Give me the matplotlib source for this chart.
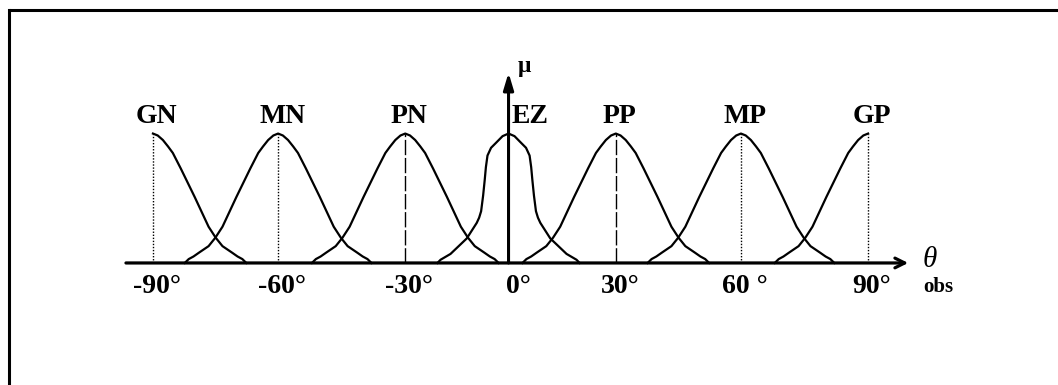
import matplotlib
matplotlib.use('Agg')
import matplotlib.pyplot as plt
from matplotlib.lines import Line2D
import numpy as np

plt.rcParams['font.family'] = 'Liberation Serif'

# fuzzy sets for the observed angle
labels = ['GN', 'MN', 'PN', 'EZ', 'PP', 'MP', 'GP']
angles = [-90, -60, -30, 0, 30, 60, 90]
tick_text = ['-90°', '-60°', '-30°', '0°', '30°', '60 °', '90°']
# where each set's peak sits on the drawn axis
peak_x = [-90, -58.5, -26.5, -0.5, 26.5, 58, 90]

# half profile of the bell sets (offset from peak, membership)
bell_offset = [0, 1.2, 2.5, 3.8, 5.0, 7.0, 10.5, 14.0, 15.8, 17.5,
               19.9, 21.3, 22.5, 23.5]
bell_mu = [1.0, 0.985, 0.95, 0.9, 0.85, 0.73, 0.51, 0.28, 0.195, 0.13,
           0.08, 0.05, 0.03, 0.0]

# narrower profile of the zero set
ez_offset = [0, 1.5, 3.1, 4.4, 5.3, 5.7, 6.0, 6.4, 6.9, 7.4, 8.0, 10.5,
             14.6, 17.1, 17.9]
ez_mu = [1.0, 0.98, 0.93, 0.89, 0.83, 0.74, 0.64, 0.52, 0.40, 0.35, 0.31,
         0.19, 0.07, 0.025, 0.0]

fig = plt.figure(figsize=(10.58, 3.85), dpi=100)
ax = fig.add_axes([0, 0, 1, 1])
ax.set_xlim(-128.5, 137.8)
ax.set_ylim(-0.943, 2.032)
ax.axis('off')

for lab, ang, px in zip(labels, angles, peak_x):
    if lab == 'EZ':
        off, mu = np.array(ez_offset), np.array(ez_mu)
    else:
        off, mu = np.array(bell_offset), np.array(bell_mu)
    xs, ys = [], []
    if ang > -90:
        xs += list(px - off[::-1])
        ys += list(mu[::-1])
    if ang < 90:
        xs += list(px + off)
        ys += list(mu)
    ax.plot(xs, ys, color='black', lw=1.6, solid_joinstyle='round')

    if lab != 'EZ':
        ls = (0, (11, 2)) if abs(ang) == 30 else (0, (1, 1.2))
        ax.plot([px, px], [0, 1], color='black', lw=1.0, linestyle=ls)

    ax.text(px + (1.0 if lab != 'EZ' else 5.5), 1.082, lab, fontsize=20,
            weight='bold', ha='center', va='baseline')

for txt, px, ang in zip(tick_text, peak_x, angles):
    ax.text(px + (2.6 if ang == 0 else 1.0), -0.232, txt, fontsize=20,
            weight='bold', ha='center', va='baseline')

# axes with arrows
x0 = peak_x[3]
ax.annotate('', xy=(100.1, 0), xytext=(-96.8, 0),
            arrowprops=dict(arrowstyle='->,head_length=0.7,head_width=0.35',
                            lw=2.3, color='black', mutation_scale=10,
                            shrinkA=0, shrinkB=0))
ax.annotate('', xy=(x0, 1.47), xytext=(x0, 0),
            arrowprops=dict(arrowstyle='-|>,head_length=1.0,head_width=0.3',
                            lw=2.2, color='black', mutation_scale=10,
                            shrinkA=0, shrinkB=0))

ax.text(1.9, 1.476, 'μ', fontsize=17, weight='bold', ha='left',
        va='baseline')
ax.text(103.6, -0.035, 'θ', fontsize=21, style='italic', ha='left',
        va='baseline')
ax.text(103.9, -0.225, 'obs', fontsize=15, weight='bold', ha='left',
        va='baseline')

# frame along the top and left edges
top = 1 - 9.5 / 385
left = 8.5 / 1058
fig.add_artist(Line2D([left, 1], [top, top], color='black', lw=2.2,
                      solid_capstyle='butt', transform=fig.transFigure))
fig.add_artist(Line2D([left, left], [0, top], color='black', lw=2.2,
                      solid_capstyle='projecting', transform=fig.transFigure))

fig.savefig('out.png', dpi=100)
